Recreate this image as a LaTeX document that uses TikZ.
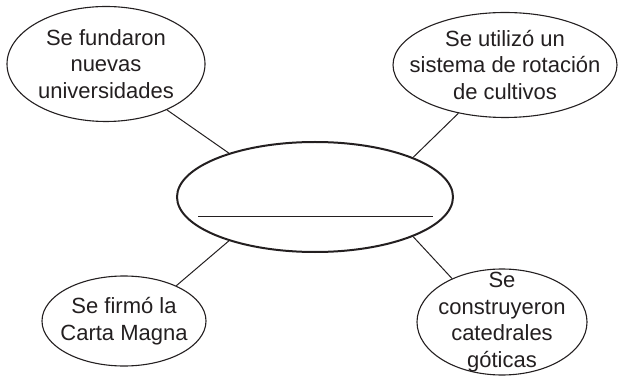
\documentclass[tikz,border=0pt]{standalone}
\usepackage{fontspec}
\setmainfont{Liberation Sans}
\usetikzlibrary{shapes.geometric}
\definecolor{ink}{HTML}{231F20}

\begin{document}
\begin{tikzpicture}[x=0.5pt,y=0.5pt,
    bubble/.style={ellipse,draw=ink,line width=0.55pt,inner sep=0pt},
    words/.style={align=center,text=ink,inner sep=0pt,font=\fontsize{11}{13.4}\selectfont},
    spoke/.style={draw=ink,line width=0.5pt}]
  \useasboundingbox (0,0) rectangle (619,375);

  \node[bubble,line width=1pt,minimum width=138pt,minimum height=55pt] (centre) at (315,178) {};
  \node[bubble,minimum width=99pt,minimum height=57.5pt,
        label={[words]center:Se fundaron\\nuevas\\universidades}] (fundaron) at (106,311) {};
  \node[bubble,minimum width=112pt,minimum height=52.5pt,
        label={[words]center:Se utilizó un\\sistema de rotación\\de cultivos}] (rotacion) at (505,310) {};
  \node[bubble,minimum width=82pt,minimum height=45pt,
        label={[words]center:Se firmó la\\Carta Magna}] (magna) at (124,54) {};
  \node[bubble,minimum width=85pt,minimum height=53pt,
        label={[words]center:Se\\construyeron\\catedrales\\góticas}] (catedrales) at (502,53) {};

  \draw[ink,line width=0.5pt] ([shift={(-117,-20)}]centre.center) -- ([shift={(118,-20)}]centre.center);

  \path
  (fundaron.323) edge[spoke] (centre.153)
  (rotacion.226) edge[spoke] (centre.22)
  (magna.34) edge[spoke] (centre.207)
  (catedrales.139) edge[spoke] (centre.338)
  ;
\end{tikzpicture}
\end{document}
